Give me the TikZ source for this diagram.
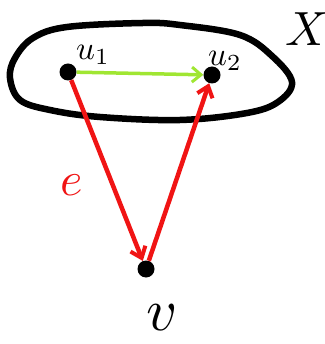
\documentclass[tikz,border=0pt]{standalone}
\usetikzlibrary{arrows.meta}
\definecolor{hred}{RGB}{240,20,20}
\definecolor{hgreen}{RGB}{160,230,50}
\begin{document}
\begin{tikzpicture}[x=1pt,y=-1pt,
  dot/.style={circle,fill=black,inner sep=0pt,minimum size=17pt},
  redarr/.style={draw=hred,line width=4.5pt,-{Straight Barb[length=10pt,width=16pt,line width=4pt]}},
  greenarr/.style={draw=hgreen,line width=3.5pt,-{Straight Barb[length=9pt,width=15pt,line width=3pt]}},
  lbl/.style={inner sep=0pt}]
\useasboundingbox (0,0) rectangle (324,344);
\draw[line width=6.5pt,line join=round] plot[smooth cycle,tension=0.6] coordinates
  {(10,78) (15,58) (33,38) (67,27) (143,23) (180,25) (240,35) (272,56) (292,82) (278,102) (247,113) (180,120) (100,117) (50,110) (20,100)};
\node[dot] (u1) at (68,72) {};
\node[dot] (u2) at (212,75) {};
\node[dot] (v) at (146,269) {};
\node[lbl,scale=3.3] (lu1) at (93,55) {$u_1$};
\node[lbl,scale=3.3] (lu2) at (225,61) {$u_2$};
\node[lbl,scale=4.8] (lx) at (307,29) {$X$};
\node[lbl,text=hred,scale=4.8] (le) at (72,185) {$e$};
\node[lbl,scale=6] (lv) at (162,318) {$v$};
\draw[greenarr] (u1) -- (u2);
\draw[redarr] (u1) -- (v);
\draw[redarr] (v) -- (u2);
\end{tikzpicture}
\end{document}
